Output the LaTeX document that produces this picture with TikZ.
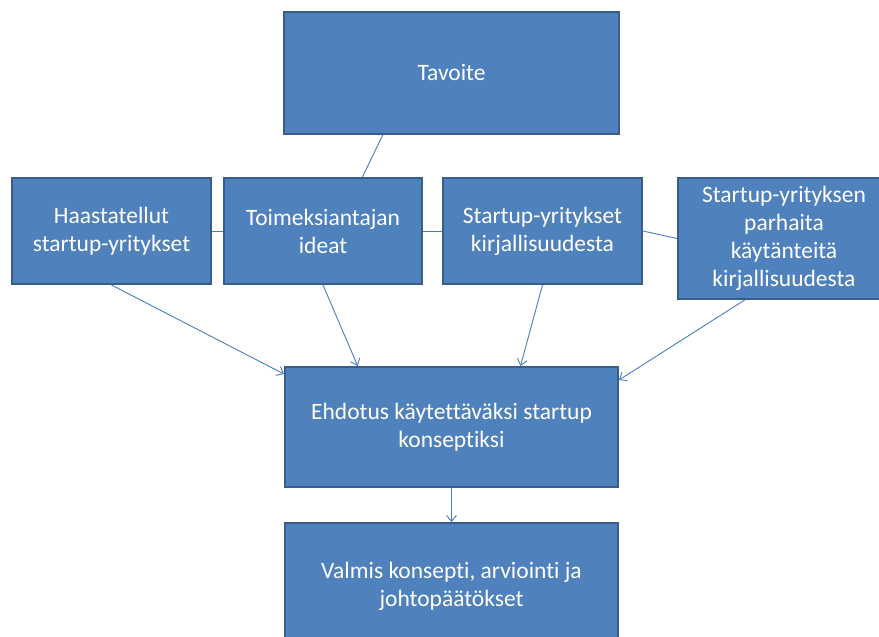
\documentclass[tikz,border=0pt]{standalone}
\usepackage{fontspec}
\setmainfont{Carlito}[Ligatures={NoCommon}]
\usetikzlibrary{arrows.meta,calc}
\definecolor{boxfill}{HTML}{4F81BD}
\definecolor{boxline}{HTML}{385D8A}
\definecolor{conn}{HTML}{4A7EBB}
\begin{document}
\begin{tikzpicture}[x=1pt,y=-1pt,
  box/.style={draw=boxline,fill=boxfill,line width=2pt,text=white,align=center,
    inner sep=0pt,font=\fontsize{23.5}{28}\selectfont},
  link/.style={draw=conn,line width=0.9pt},
  arr/.style={link,-{Straight Barb[length=6pt,width=10pt]}}]
\useasboundingbox (0,0) rectangle (879,637);
\clip (0,0) rectangle (879,637);
\node[box,minimum width=335pt,minimum height=122pt] (tav) at (451.5,73) {Tavoite};
\node[box,minimum width=199pt,minimum height=106pt] (h1) at (111.5,231) {Haastatellut\\startup-yritykset};
\node[box,minimum width=198pt,minimum height=106pt] (h2) at (323,231) {Toimeksiantajan\\ideat};
\node[box,minimum width=199pt,minimum height=106pt] (h3) at (542.5,231) {Startup-yritykset\\kirjallisuudesta};
\node[box,minimum width=212pt,minimum height=121pt] (h4) at (784,238.5) {Startup-yrityksen\\parhaita\\käytänteitä\\kirjallisuudesta};
\node[box,minimum width=333pt,minimum height=120pt] (eh) at (451.5,427) {Ehdotus käytettäväksi startup\\konseptiksi};
\node[box,minimum width=333pt,minimum height=127pt] (va) at (451.5,586.5) {Valmis konsepti, arviointi ja\\johtopäätökset};
\draw[link] ($(tav.south west)!0.296!(tav.south east)$) -- ($(h2.north west)!0.697!(h2.north east)$);
\draw[link] (h1.east) -- (h2.west);
\draw[link] (h2.east) -- (h3.west);
\draw[link] (h3.east) -- (h4.west);
\draw[arr] (h1.south) -- ($(eh.north west)+(0,8)$);
\draw[arr] (h2.south) -- ($(eh.north west)!0.22!(eh.north east)$);
\draw[arr] (h3.south) -- ($(eh.north west)!0.706!(eh.north east)$);
\draw[arr] ($(h4.south west)!0.316!(h4.south east)$) -- ($(eh.north east)+(0,14)$);
\draw[arr] (eh.south) -- (va.north);
\end{tikzpicture}
\end{document}
